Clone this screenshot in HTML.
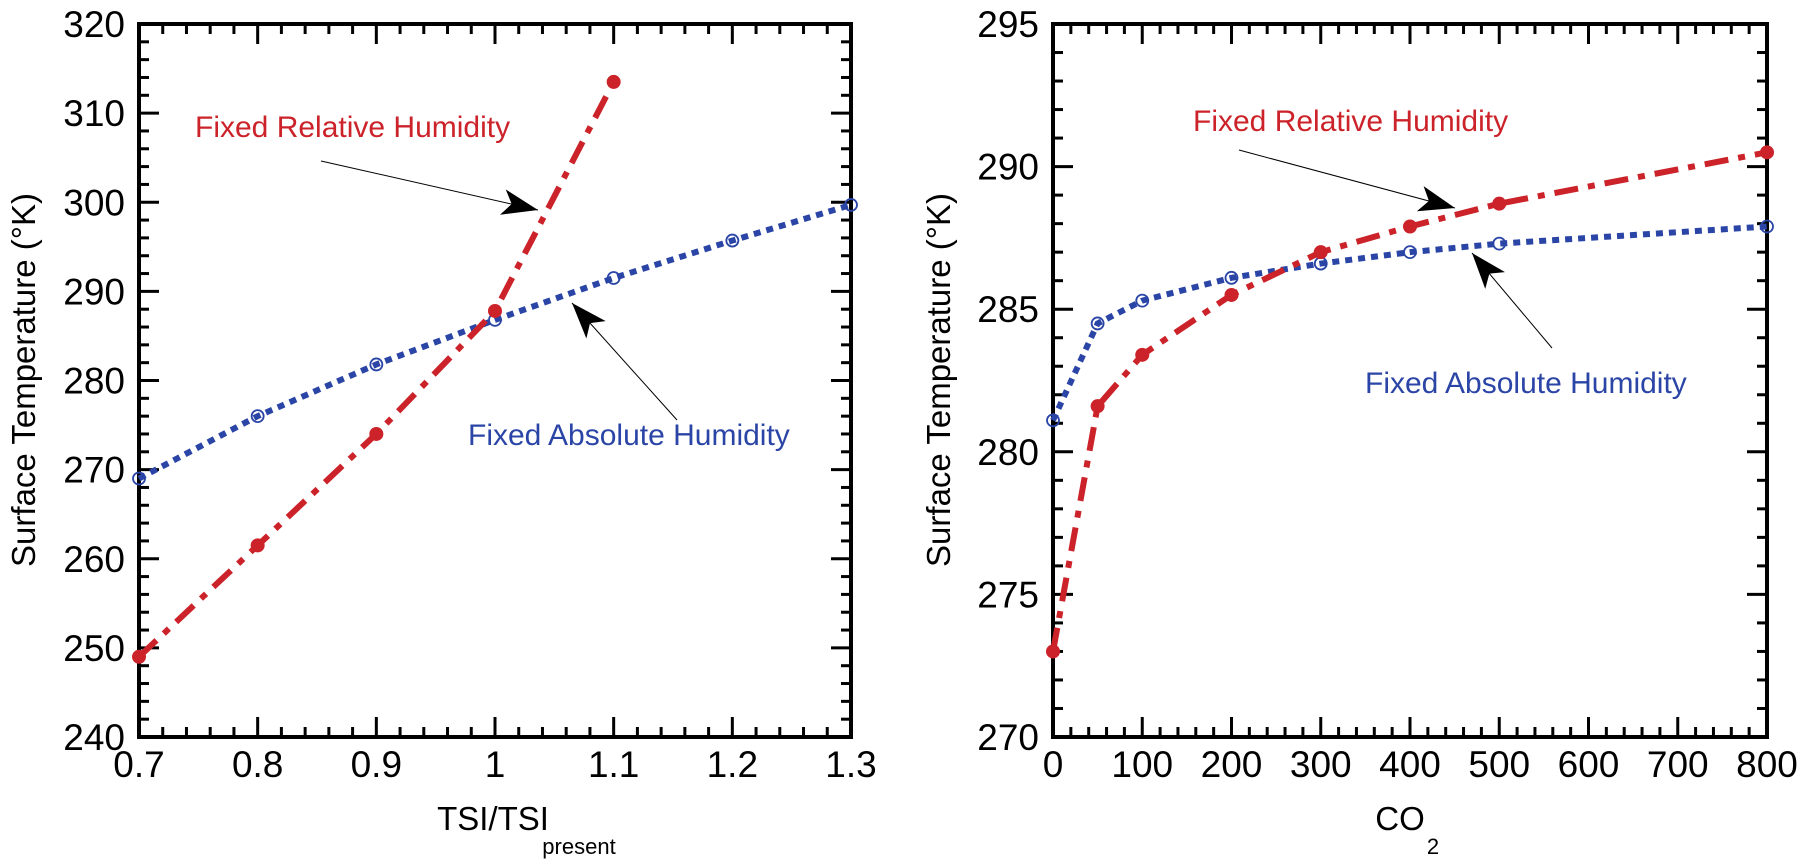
<!DOCTYPE html>
<html><head><meta charset="utf-8"><style>
html,body{margin:0;padding:0;background:#fff;}
svg{display:block;font-family:"Liberation Sans",Arial,sans-serif;}
</style></head><body>
<svg id="c" width="1800" height="864" viewBox="0 0 1800 864">
<defs>
<marker id="ah" viewBox="0 0 36 26" refX="36" refY="13" markerWidth="36" markerHeight="26" markerUnits="userSpaceOnUse" orient="auto" preserveAspectRatio="none"><path d="M0,0 L36,13 L0,26 L9,13 z" fill="#000"/></marker>
</defs>
</svg>
<script>
const tsiCats=[0.7,0.8,0.9,1.0,1.1];
const tsiRel=[249,261.5,274,287.8,313.5];
const tsiAbsX=[0.7,0.8,0.9,1.0,1.1,1.2,1.3];
const tsiAbs=[269,276,281.8,286.8,291.5,295.7,299.7];
const co2Cats=[0,50,100,200,300,400,500,800];
const co2Rel=[273,281.6,283.4,285.5,287.0,287.9,288.7,290.5];
const co2Abs=[281.1,284.5,285.3,286.1,286.6,287.0,287.3,287.9];
const leftXTicks=["0.7","0.8","0.9","1","1.1","1.2","1.3"];
const leftYTicks=["240","250","260","270","280","290","300","310","320"];
const rightXTicks=["0","100","200","300","400","500","600","700","800"];
const rightYTicks=["270","275","280","285","290","295"];

const svg=document.getElementById('c');
const NS='http://www.w3.org/2000/svg';
function mk(t,a,p){const e=document.createElementNS(NS,t);for(const k in a)e.setAttribute(k,a[k]);(p||svg).appendChild(e);return e;}

function panel(o){
  const g=mk('g',{});
  
  
  const sx=v=>o.L+(v-o.x0)/(o.x1-o.x0)*(o.R-o.L);
  const sy=v=>o.B-(v-o.y0)/(o.y1-o.y0)*(o.B-o.T);
  for(let v=o.x0;v<=o.x1+1e-9;v+=o.xm){
    const maj=Math.abs(((v-o.x0)/o.xM)-Math.round((v-o.x0)/o.xM))<1e-6;
    const len=maj?20:10,x=sx(v);
    mk('line',{x1:x,x2:x,y1:o.B,y2:o.B-len,stroke:'#000','stroke-width':3},g);
    mk('line',{x1:x,x2:x,y1:o.T,y2:o.T+len,stroke:'#000','stroke-width':3},g);
  }
  for(let v=o.y0;v<=o.y1+1e-9;v+=o.ym){
    const maj=Math.abs(((v-o.y0)/o.yM)-Math.round((v-o.y0)/o.yM))<1e-6;
    const len=maj?20:10,y=sy(v);
    mk('line',{x1:o.L,x2:o.L+len,y1:y,y2:y,stroke:'#000','stroke-width':3},g);
    mk('line',{x1:o.R,x2:o.R-len,y1:y,y2:y,stroke:'#000','stroke-width':3},g);
  }
  const fr=mk('rect',{x:o.L,y:o.T,width:o.R-o.L,height:o.B-o.T,fill:'none',stroke:'#000','stroke-width':4},g);
  
  
  o.xt.forEach((s,i)=>{const t=mk('text',{x:sx(o.x0+i*o.xM),y:777,'font-size':37,'text-anchor':'middle'},g);t.textContent=s;
    
    });
  o.yt.forEach((s,i)=>{const t=mk('text',{x:o.L-14,y:sy(o.y0+i*o.yM)+13,'font-size':37,'text-anchor':'end'},g);t.textContent=s;
    
    });
  const yt=mk('text',{x:0,y:0,'font-size':33,'text-anchor':'middle',transform:`translate(${o.yTitleX},380) rotate(-90)`},g);
  yt.textContent='Surface Temperature (°K)';
  
  
  const bp=o.bx.map((x,i)=>sx(x)+','+sy(o.by[i])).join(' ');
  const bl=mk('polyline',{points:bp,fill:'none',stroke:'#2a45a6','stroke-width':6,'stroke-dasharray':'7 6'},g);
  
  
  const rp=o.rx.map((x,i)=>sx(x)+','+sy(o.ry[i])).join(' ');
  const rl=mk('polyline',{points:rp,fill:'none',stroke:'#cc2229','stroke-width':6,'stroke-dasharray':'24 10 7 10'},g);
  
  
  o.bx.forEach((x,i)=>{const c=mk('circle',{cx:sx(x),cy:sy(o.by[i]),r:6,fill:'none',stroke:'#2a45a6','stroke-width':1.8},g);
    
    });
  o.rx.forEach((x,i)=>{const c=mk('circle',{cx:sx(x),cy:sy(o.ry[i]),r:7,fill:'#cc2229'},g);
    
    });
  const t1=mk('text',{x:o.a.rt[0],y:o.a.rt[1],'font-size':30,fill:'#cc2229'},g);t1.textContent='Fixed Relative Humidity';
  
  
  const t2=mk('text',{x:o.a.bt[0],y:o.a.bt[1],'font-size':30,fill:'#2a45a6'},g);t2.textContent='Fixed Absolute Humidity';
  
  
  const a1=mk('line',{x1:o.a.ra[0],y1:o.a.ra[1],x2:o.a.ra[2],y2:o.a.ra[3],stroke:'#000','stroke-width':1,'marker-end':'url(#ah)'},g);
  
  
  const a2=mk('line',{x1:o.a.ba[0],y1:o.a.ba[1],x2:o.a.ba[2],y2:o.a.ba[3],stroke:'#000','stroke-width':1,'marker-end':'url(#ah)'},g);
  
  
  return g;
}
panel({name:'tsi-panel',L:139,R:851,T:24,B:737,x0:0.7,x1:1.3,xM:0.1,xm:0.02,y0:240,y1:320,yM:10,ym:2,
  xt:leftXTicks,yt:leftYTicks,yTitleX:35,rx:tsiCats,ry:tsiRel,bx:tsiAbsX,by:tsiAbs,
  a:{rt:[195,137],bt:[468,445],ra:[321,161,538,210],ba:[677,420,572,303]}});
panel({name:'co2-panel',L:1053,R:1767,T:24,B:737,x0:0,x1:800,xM:100,xm:20,y0:270,y1:295,yM:5,ym:1,
  xt:rightXTicks,yt:rightYTicks,yTitleX:950,rx:co2Cats,ry:co2Rel,bx:co2Cats,by:co2Abs,
  a:{rt:[1193,131],bt:[1365,393],ra:[1239,150,1455,208],ba:[1552,348,1472,253]}});
const x1=mk('text',{x:493,y:830,'font-size':33,'text-anchor':'middle'});x1.textContent='TSI/TSI';


const x1s=mk('text',{x:579,y:854,'font-size':22,'text-anchor':'middle'});x1s.textContent='present';


const x2=mk('text',{x:1400,y:830,'font-size':33,'text-anchor':'middle'});x2.textContent='CO';


const x2s=mk('text',{x:1433,y:854,'font-size':22,'text-anchor':'middle'});x2s.textContent='2';


</script>
</body></html>
